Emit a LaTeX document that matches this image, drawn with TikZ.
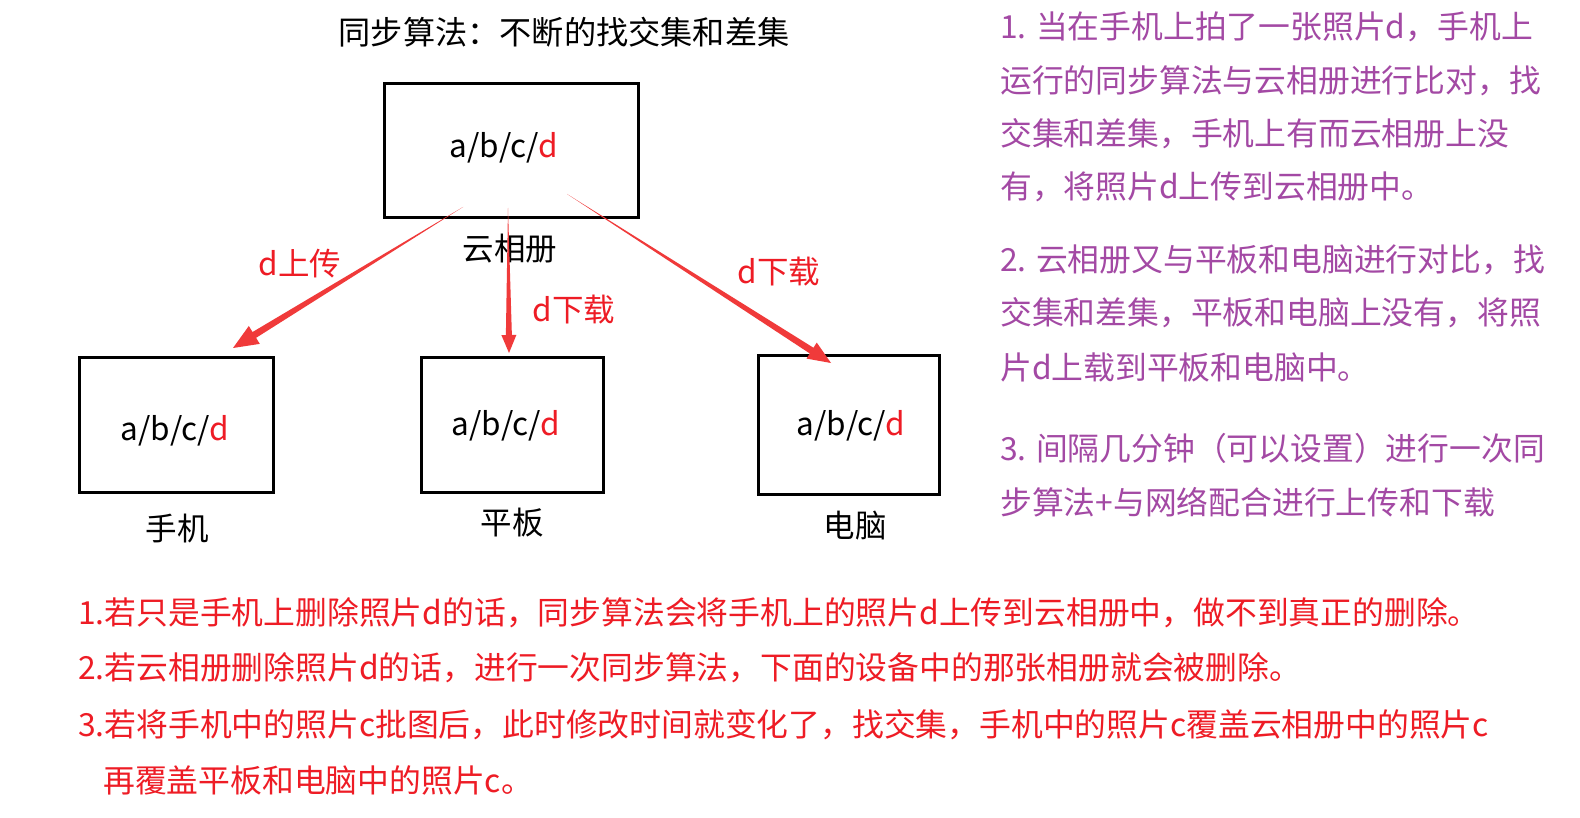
\documentclass[tikz,border=0pt]{standalone}
\usepackage{fontspec}
\setmainfont{Noto Sans CJK SC}
\usetikzlibrary{calc}
\definecolor{txtred}{HTML}{EE1C25}
\definecolor{arrowred}{HTML}{F03A3A}
\definecolor{purp}{HTML}{A349A4}
\newcommand\tarrow[5]{%
  \coordinate (hb) at ($(#2)!#3!(#1)$);
  \fill[arrowred] (#1) -- ($(hb)!#5!90:(#1)$) -- ($(hb)!#4!90:(#1)$) -- (#2) -- ($(hb)!#4!-90:(#1)$) -- ($(hb)!#5!-90:(#1)$) -- cycle;}
\begin{document}
\begin{tikzpicture}[x=1pt,y=-1pt,
  box/.style={draw=black,line width=3pt,inner sep=0pt},
  txt/.style={inner sep=0pt,font=\fontsize{31.5}{31.5}\selectfont},
  rl/.style={txt,text=txtred},
  pl/.style={inner sep=0pt,anchor=west,text=purp,font=\fontsize{31.8}{31.8}\selectfont},
  bl/.style={inner sep=0pt,anchor=west,text=txtred,font=\fontsize{31.8}{31.8}\selectfont}]
\fill[white] (0,0) rectangle (1580,818);
\useasboundingbox (0,0) rectangle (1580,818);

\node[inner sep=0pt,font=\fontsize{32.2}{32.2}\selectfont] (title) at (564,32) {同步算法：不断的找交集和差集};

\node[box,minimum width=254,minimum height=134] (cloud) at (511,151) {};
\node[box,minimum width=194,minimum height=134] (phone) at (176,425) {};
\node[box,minimum width=182,minimum height=134] (pad) at (512,425) {};
\node[box,minimum width=181,minimum height=138] (pc) at (848.5,425) {};

\node[txt] (tcloud) at (504,148) {a/b/c/\textcolor{txtred}{d}};
\node[txt] (tphone) at (175,431) {a/b/c/\textcolor{txtred}{d}};
\node[txt] (tpad) at (506,426) {a/b/c/\textcolor{txtred}{d}};
\node[txt] (tpc) at (851,426) {a/b/c/\textcolor{txtred}{d}};

\node[txt] (ncloud) at (510,249) {云相册};
\node[txt] (nphone) at (177,529) {手机};
\node[txt] (npad) at (512,523) {平板};
\node[txt] (npc) at (855,526) {电脑};

\coordinate (s1) at (463,207);
\coordinate (e1) at (233,348);
\coordinate (s2) at (508,208);
\coordinate (e2) at (509,353);
\coordinate (s3) at (567,194);
\coordinate (e3) at (831,363);
\tarrow{s1}{e1}{25pt}{10.5pt}{3.4pt}
\tarrow{s2}{e2}{18pt}{7.5pt}{3pt}
\tarrow{s3}{e3}{23pt}{9.5pt}{3.4pt}

\node[rl] (l1) at (300,264) {d上传};
\node[rl] (l2) at (574,310) {d下载};
\node[rl] (l3) at (779,272) {d下载};

\node[pl] (p1) at (1000,27) {1. 当在手机上拍了一张照片d，手机上};
\node[pl] (p2) at (1000,81) {运行的同步算法与云相册进行比对，找};
\node[pl] (p3) at (1000,134) {交集和差集，手机上有而云相册上没};
\node[pl] (p4) at (1000,187) {有，将照片d上传到云相册中。};
\node[pl] (p5) at (1000,260) {2. 云相册又与平板和电脑进行对比，找};
\node[pl] (p6) at (1000,313) {交集和差集，平板和电脑上没有，将照};
\node[pl] (p7) at (1000,367) {片d上载到平板和电脑中。};
\node[pl] (p8) at (1000,448) {3. 间隔几分钟（可以设置）进行一次同};
\node[pl] (p9) at (1000,502) {步算法+与网络配合进行上传和下载};

\node[bl] (b1) at (78,613) {1.若只是手机上删除照片d的话，同步算法会将手机上的照片d上传到云相册中，做不到真正的删除。};
\node[bl] (b2) at (78,668) {2.若云相册删除照片d的话，进行一次同步算法，下面的设备中的那张相册就会被删除。};
\node[bl] (b3) at (78,725) {3.若将手机中的照片c批图后，此时修改时间就变化了，找交集，手机中的照片c覆盖云相册中的照片c};
\node[bl] (b4) at (103,780) {再覆盖平板和电脑中的照片c。};
\end{tikzpicture}
\end{document}
